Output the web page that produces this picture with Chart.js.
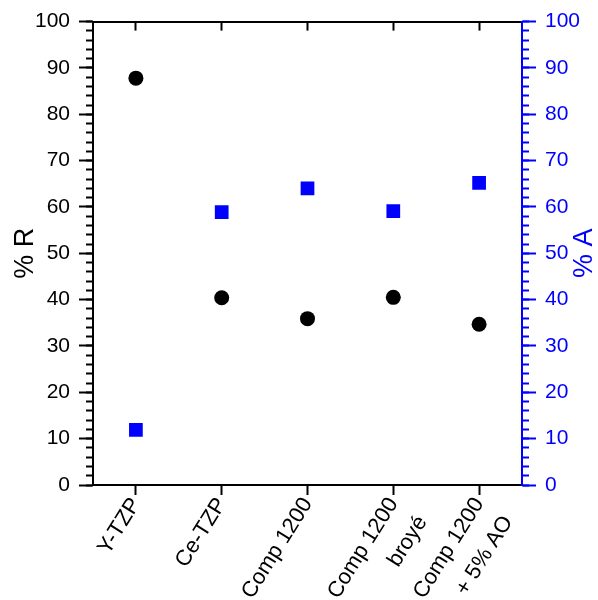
<!DOCTYPE html>
<html>
<head>
<meta charset="utf-8">
<script src="https://cdn.jsdelivr.net/npm/chart.js@4/dist/chart.umd.min.js"></script>
<style>
  body { margin: 0; background: #fff; }
  canvas { display: block; }
</style>
</head>
<body>
<canvas id="chart" width="598" height="600"></canvas>
<script>
// Data
const categories = ['Y-TZP', 'Ce-TZP', 'Comp 1200', ['Comp 1200', 'broyé'], ['Comp 1200', '+ 5% AO']];
const rValues = [87.8, 40.4, 35.9, 40.5, 34.7];
const aValues = [11.9, 58.9, 64.0, 59.1, 65.2];
const axisMin = 0;
const axisMax = 100;
const majorStep = 10;
const minorStep = 2;

const BLUE = '#0000ff';
const FONT = '"Liberation Sans", Arial, sans-serif';

// draws the right axis title reading bottom to top, like the left one
const rightTitle = {
  id: 'rightTitle',
  afterDraw(chart) {
    const ctx = chart.ctx;
    const area = chart.chartArea;
    ctx.save();
    ctx.translate(585, (area.top + area.bottom) / 2);
    ctx.rotate(-Math.PI / 2);
    ctx.fillStyle = BLUE;
    ctx.font = '27px ' + FONT;
    ctx.textAlign = 'center';
    ctx.textBaseline = 'middle';
    ctx.fillText('% A', 0, 0);
    ctx.restore();
  }
};

function yMajor(position, color, width, weight) {
  return {
    type: 'linear',
    position: position,
    min: axisMin,
    max: axisMax,
    weight: weight,
    afterFit: s => { s.width = width; },
    ticks: {
      stepSize: majorStep,
      color: color,
      padding: 9,
      font: { size: 21, family: FONT }
    },
    grid: { drawOnChartArea: false, tickLength: 14, tickWidth: 2, tickColor: color },
    border: { color: color, width: 2 }
  };
}

function yMinor(position, color) {
  return {
    type: 'linear',
    position: position,
    min: axisMin,
    max: axisMax,
    weight: 0,
    afterFit: s => { s.width = 0; },
    ticks: { stepSize: minorStep, display: false },
    grid: { drawOnChartArea: false, tickLength: 7, tickWidth: 2, tickColor: color },
    border: { display: false }
  };
}

new Chart(document.getElementById('chart'), {
  type: 'line',
  data: {
    labels: categories,
    datasets: [{
      label: '% R',
      data: rValues,
      yAxisID: 'y',
      showLine: false,
      pointStyle: 'circle',
      pointRadius: 7.5,
      pointHoverRadius: 7.5,
      pointBackgroundColor: '#000',
      pointBorderWidth: 0
    }, {
      label: '% A',
      data: aValues,
      yAxisID: 'yA',
      showLine: false,
      pointStyle: 'rect',
      pointRadius: 9.7,
      pointHoverRadius: 9.7,
      pointBackgroundColor: BLUE,
      pointBorderWidth: 0
    }]
  },
  options: {
    responsive: false,
    animation: false,
    layout: { padding: { top: 18, left: 0, right: 0, bottom: 0 } },
    plugins: {
      legend: { display: false },
      tooltip: { enabled: false }
    },
    scales: {
      x: {
        type: 'category',
        position: 'bottom',
        offset: true,
        afterFit: s => { s.height = 115; },
        ticks: {
          minRotation: 58,
          maxRotation: 58,
          padding: -4,
          color: '#000',
          font: { size: 22, family: FONT, lineHeight: 1.55 }
        },
        grid: { drawOnChartArea: false, tickLength: 10, tickWidth: 2, tickColor: '#000' },
        border: { color: '#000', width: 2 }
      },
      xTop: {
        type: 'category',
        position: 'top',
        offset: true,
        afterFit: s => { s.height = 0; },
        ticks: { display: false },
        grid: { drawOnChartArea: false, tickLength: -9, tickWidth: 2, tickColor: '#000' },
        border: { color: '#000', width: 2 }
      },
      y: Object.assign(yMajor('left', '#000', 93, 1), {
        title: {
          display: true,
          text: '% R',
          color: '#000',
          font: { size: 27, family: FONT, lineHeight: 1 },
          padding: { top: 12, bottom: 0 }
        }
      }),
      yMinorL: yMinor('left', '#000'),
      yA: yMajor('right', BLUE, 76, 1),
      yMinorR: yMinor('right', BLUE)
    }
  },
  plugins: [rightTitle]
});
</script>
</body>
</html>
